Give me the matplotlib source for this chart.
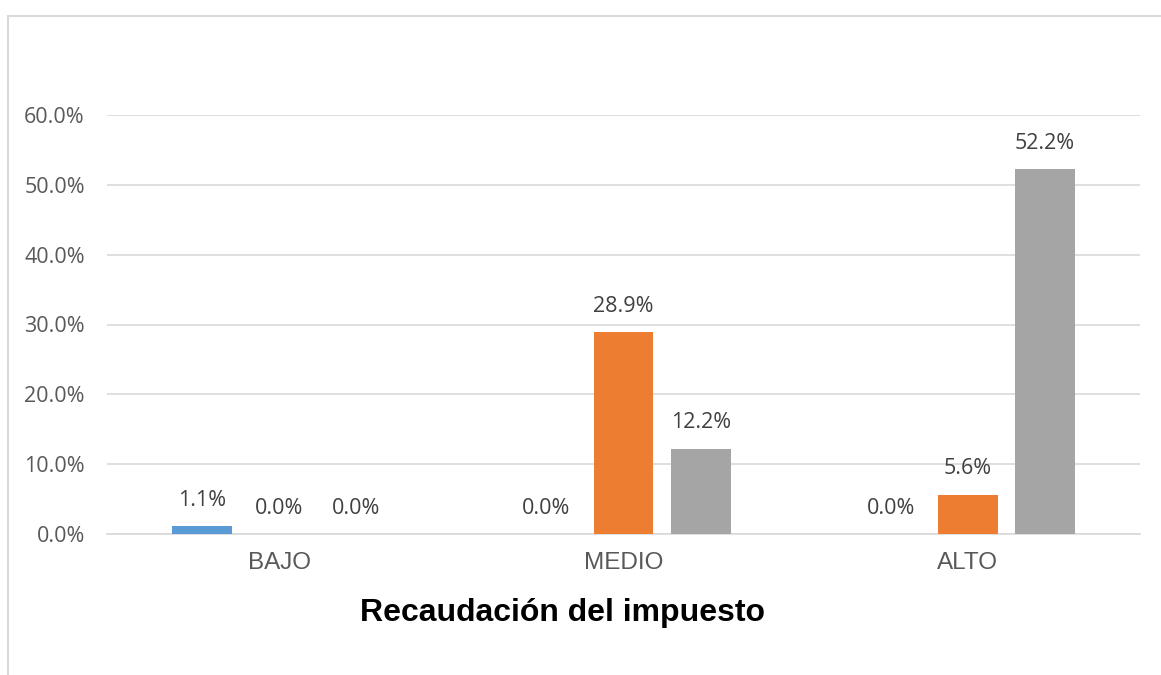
import numpy as np
import matplotlib
matplotlib.use('Agg')
import matplotlib.pyplot as plt
from matplotlib.lines import Line2D

# data
categories = ['BAJO', 'MEDIO', 'ALTO']
serie_1 = [1.1, 0.0, 0.0]
serie_2 = [0.0, 28.9, 5.6]
serie_3 = [0.0, 12.2, 52.2]
yticks = [0, 10, 20, 30, 40, 50, 60]

colors = ['#5B9BD5', '#ED7D31', '#A5A5A5']

fig = plt.figure(figsize=(11.61, 6.75), dpi=100)
ax = fig.add_axes([107 / 1161, 1 - 534 / 675, (1140 - 107) / 1161, (534 - 115) / 675])

# outer chart border (only top and left visible in the crop)
fig.add_artist(Line2D([8 / 1161, 8 / 1161], [0, 1 - 16 / 675], transform=fig.transFigure,
                      color='#D9D9D9', lw=1.5))
fig.add_artist(Line2D([8 / 1161, 1], [1 - 16 / 675, 1 - 16 / 675], transform=fig.transFigure,
                      color='#D9D9D9', lw=1.5))

x = np.arange(len(categories))
width = 0.174
step = 0.224

for i, vals in enumerate([serie_1, serie_2, serie_3]):
    pos = x + (i - 1) * step
    ax.bar(pos, vals, width=width, color=colors[i], zorder=3)
    for p, v in zip(pos, vals):
        ax.annotate('{:.1f}%'.format(v), (p, v), xytext=(0, 26), textcoords='offset pixels',
                    ha='center', va='center', fontsize=15.5, color='#404040',
                    family='Open Sans', annotation_clip=False)

ax.set_xlim(-0.5, 2.5)
ax.set_ylim(0, 60)
ax.set_yticks(yticks)
ax.set_yticklabels(['{:.1f}%'.format(t) for t in yticks], family='Open Sans',
                   fontsize=15.5, color='#595959')
ax.set_xticks(x)
ax.set_xticklabels(categories, family='Liberation Sans', fontsize=17.5, color='#595959')
ax.tick_params(axis='both', length=0)
ax.tick_params(axis='y', pad=16)
ax.tick_params(axis='x', pad=13)

ax.grid(axis='y', color='#D9D9D9', lw=1.2, zorder=0)
for s in ['top', 'right', 'left']:
    ax.spines[s].set_visible(False)
ax.spines['bottom'].set_color('#D9D9D9')
ax.spines['bottom'].set_linewidth(1.2)

fig.text(562 / 1161, 1 - 613 / 675, 'Recaudación del impuesto', ha='center', va='center',
         fontsize=23, fontweight='bold', family='Liberation Sans', color='black')

plt.savefig('out.png', dpi=100)
